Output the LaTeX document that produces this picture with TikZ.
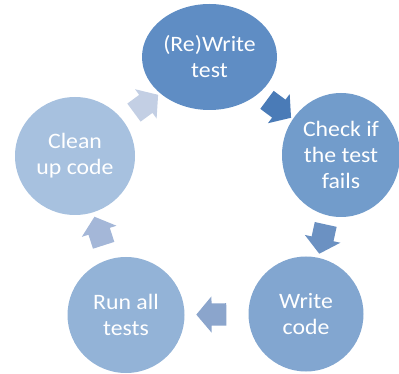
\documentclass[tikz,border=0pt]{standalone}
\usepackage{fontspec}
\setmainfont{Carlito}[FakeStretch=1.08]
\usetikzlibrary{shapes.geometric, shapes.arrows}

\definecolor{stageA}{HTML}{5F8DC4}
\definecolor{stageB}{HTML}{729CCB}
\definecolor{stageC}{HTML}{82A6D0}
\definecolor{stageD}{HTML}{93B3D7}
\definecolor{stageE}{HTML}{A7C1DF}
\definecolor{arrA}{HTML}{4A7BB7}
\definecolor{arrB}{HTML}{6B91C2}
\definecolor{arrC}{HTML}{8BA5CC}
\definecolor{arrD}{HTML}{A4B7D8}
\definecolor{arrE}{HTML}{C3CFE4}

\begin{document}
\begin{tikzpicture}[x=1pt, y=-1pt,
    stage/.style={ellipse, inner sep=0pt, text=white, align=center,
        font=\fontsize{22}{26}\selectfont},
    cyclearrow/.style={single arrow, draw=none, inner xsep=0pt, inner ysep=11pt,
        minimum height=30pt, single arrow head extend=7pt,
        single arrow tip angle=100, sloped, allow upside down}]
    \useasboundingbox (0,0) rectangle (399,374);
    \node[stage, fill=stageA, minimum width=135pt, minimum height=106pt] (write) at (209.5,57) {(Re)Write\\test};
    \node[stage, fill=stageB, minimum width=118pt, minimum height=124pt] (check) at (341,155) {Check if\\the test\\fails};
    \node[stage, fill=stageC, minimum width=115pt, minimum height=115pt] (code) at (306,314) {Write\\code};
    \node[stage, fill=stageD, minimum width=117pt, minimum height=116pt] (run) at (126,315) {Run all\\tests};
    \node[stage, fill=stageE, minimum width=120pt, minimum height=118pt] (clean) at (75,156) {Clean\\up code};
    % arrows between the stages
    \path (write.center) -- node[cyclearrow, fill=arrA] (a1) {} (check.center);
    \path (check.center) -- node[cyclearrow, fill=arrB] (a2) {} (code.center);
    \path (code.center) -- node[cyclearrow, fill=arrC] (a3) {} (run.center);
    \path (run.center) -- node[cyclearrow, fill=arrD] (a4) {} (clean.center);
    \path (clean.center) -- node[cyclearrow, fill=arrE] (a5) {} (write.center);
\end{tikzpicture}
\end{document}
